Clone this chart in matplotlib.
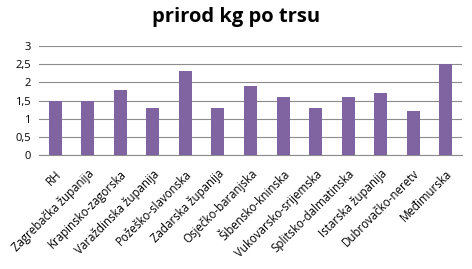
import matplotlib.pyplot as plt
import numpy as np

# Data
regions = ["RH", "Zagrebačka županija", "Krapinsko-zagorska", "Varaždinska županija",
           "Požeško-slavonska", "Zadarska županija", "Osječko-baranjska", "Šibensko-kninska",
           "Vukovarsko-srijemska", "Splitsko-dalmatinska", "Istarska županija",
           "Dubrovačko-neretv", "Međimurska"]
yield_kg = [1.5, 1.5, 1.8, 1.3, 2.3, 1.3, 1.9, 1.6, 1.3, 1.6, 1.7, 1.2, 2.5]
yticks = [0, 0.5, 1, 1.5, 2, 2.5, 3]
ytick_labels = ["0", "0,5", "1", "1,5", "2", "2,5", "3"]

plt.rcParams.update({
    "font.family": ["Open Sans", "DejaVu Sans"],
    "font.size": 8.3,
})

fig = plt.figure(figsize=(4.72, 2.69), dpi=100)
ax = fig.add_axes([39 / 472, 1 - 155 / 269, (462 - 39) / 472, (155 - 46) / 269])

x = np.arange(len(regions))
ax.bar(x, yield_kg, width=0.4, color="#8064A2", zorder=3)

ax.set_xlim(-0.5, len(regions) - 0.5)
ax.set_ylim(0, 3)
ax.set_yticks(yticks)
ax.set_yticklabels(ytick_labels, fontsize=8)
ax.yaxis.grid(True, color="#8c8c8c", linewidth=0.8, zorder=0)
ax.set_xticks(x)
ax.set_xticklabels(regions, rotation=45, ha="right", va="top", rotation_mode="anchor")
ax.tick_params(axis="y", length=0, pad=6)
ax.tick_params(axis="x", length=0, pad=9)

for s in ["top", "right", "left"]:
    ax.spines[s].set_visible(False)
ax.spines["bottom"].set_color("#8c8c8c")

fig.text(0.5, 1 - 17 / 269, "prirod kg po trsu", ha="center", va="center",
         fontsize=14.5, fontweight="bold")

fig.savefig("out.png", dpi=100)
